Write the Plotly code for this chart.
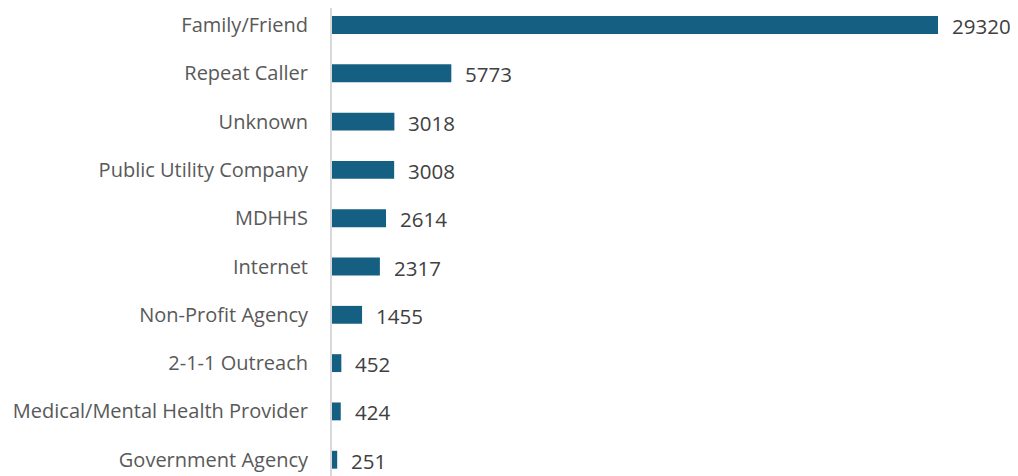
import plotly.graph_objects as go

categories = ["Family/Friend", "Repeat Caller", "Unknown", "Public Utility Company", "MDHHS",
              "Internet", "Non-Profit Agency", "2-1-1 Outreach",
              "Medical/Mental Health Provider", "Government Agency"]
values = [29320, 5773, 3018, 3008, 2614, 2317, 1455, 452, 424, 251]

FONT = "Open Sans, Liberation Sans, Arial"

fig = go.Figure(go.Bar(
    x=values, y=categories, orientation="h",
    marker=dict(color="#156082", line=dict(width=0)),
    width=0.37,
))

for c, v in zip(categories, values):
    fig.add_annotation(x=v, y=c, text=str(v), showarrow=False, xanchor="left",
                       xshift=12, yshift=-1,
                       font=dict(family=FONT, size=20.5, color="#404040"))

fig.update_layout(
    width=1010, height=468,
    margin=dict(l=324, r=0, t=0, b=0),
    plot_bgcolor="white", paper_bgcolor="white",
    showlegend=False,
    xaxis=dict(range=[0, 33190], showgrid=False, zeroline=False, showticklabels=False,
               showline=False),
    yaxis=dict(categoryorder="array", categoryarray=categories,
               range=[9.337, -0.352], showgrid=False, zeroline=False,
               showline=True, linecolor="#d9d9d9", linewidth=2,
               ticks="", ticklabelstandoff=18, automargin=False,
               tickfont=dict(family=FONT, size=20, color="#595959")),
)

fig.write_html("out.html")
